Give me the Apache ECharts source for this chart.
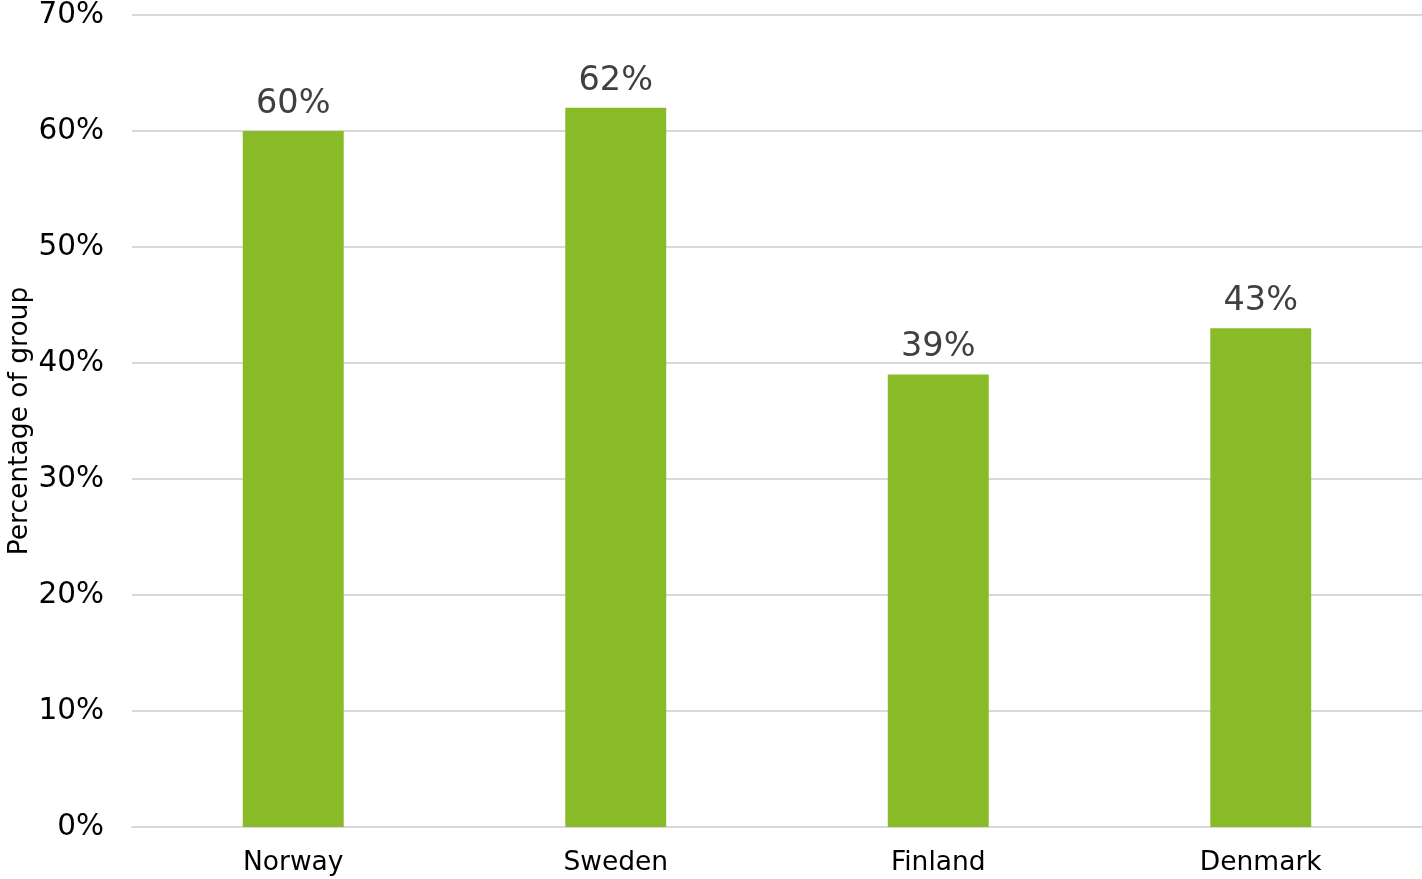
<!DOCTYPE html>
<html>
<head>
<meta charset="utf-8">
<script src="https://cdn.jsdelivr.net/npm/echarts@6/dist/echarts.min.js"></script>
<style>html,body{margin:0;padding:0;background:#fff}#c{width:1422px;height:879px}</style>
</head>
<body>
<div id="c"></div>
<script>
const categories = ["Norway", "Sweden", "Finland", "Denmark"];
const values = [60, 62, 39, 43];
const yTicks = [0, 10, 20, 30, 40, 50, 60, 70];

const chart = echarts.init(document.getElementById('c'), null, {renderer: 'canvas'});
chart.setOption({
  animation: false,
  textStyle: {fontFamily: 'DejaVu Sans'},
  grid: {left: 132, right: 0, top: 15, bottom: 52, containLabel: false, outerBoundsMode: 'none'},
  xAxis: {
    type: 'category',
    data: categories,
    axisTick: {show: false},
    axisLine: {show: true, lineStyle: {color: '#d9d9d9', width: 2}},
    axisLabel: {color: '#000', fontSize: 26.5, margin: 23, fontFamily: 'DejaVu Sans'}
  },
  yAxis: {
    type: 'value',
    min: yTicks[0],
    max: yTicks[yTicks.length - 1],
    interval: 10,
    name: 'Percentage of group',
    nameLocation: 'middle',
    nameRotate: 90,
    nameGap: 98,
    nameMoveOverlap: false,
    nameTextStyle: {color: '#000', fontSize: 26.5, fontFamily: 'DejaVu Sans'},
    axisLabel: {color: '#000', fontSize: 29.5, margin: 28, padding: [4, 0, 0, 0], formatter: v => v + '%', fontFamily: 'DejaVu Sans'},
    axisLine: {show: false},
    axisTick: {show: false},
    splitLine: {lineStyle: {color: '#d9d9d9', width: 2}}
  },
  series: [{
    type: 'bar',
    data: values,
    barWidth: '31.3%',
    itemStyle: {color: '#88bb27'},
    label: {
      show: true,
      position: 'top',
      distance: 10,
      color: '#404040',
      fontSize: 33.5,
      fontFamily: 'DejaVu Sans',
      formatter: p => p.value + '%'
    }
  }]
});
</script>
</body>
</html>
